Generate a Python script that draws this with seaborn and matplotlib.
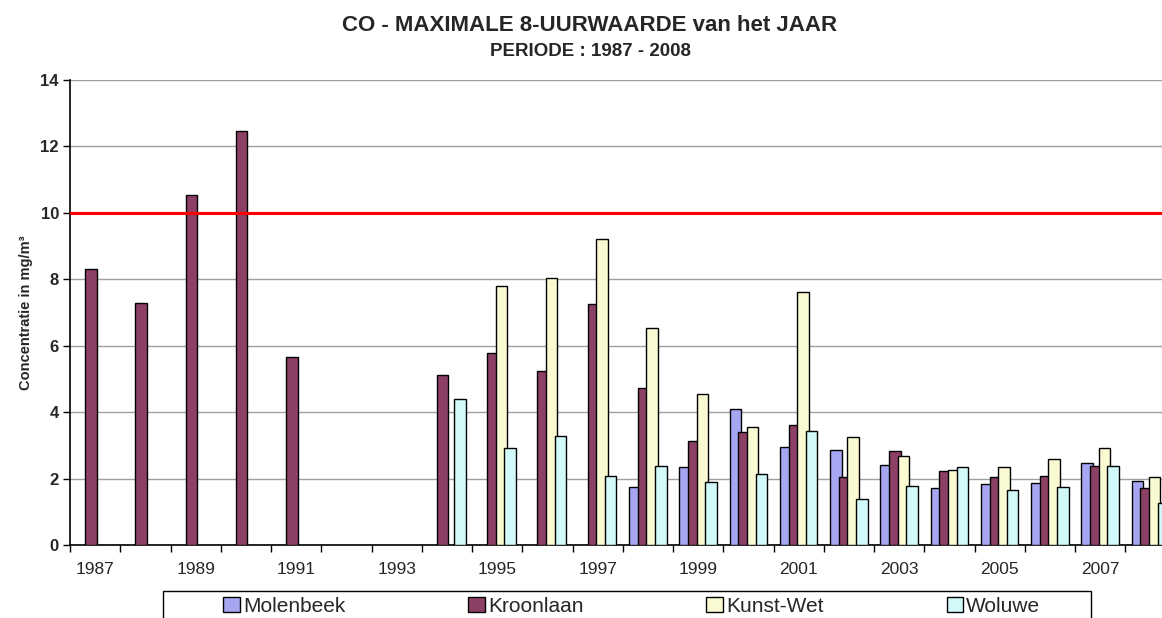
import numpy as np
import pandas as pd
import seaborn as sns
import matplotlib.pyplot as plt
from matplotlib.patches import Rectangle

sns.set_style('white')
plt.rcParams['font.family'] = ['Liberation Sans', 'DejaVu Sans']

# data (max 8-hour CO value per year, mg/m3)
years = list(range(1987, 2009))
nan = np.nan
molenbeek = [nan] * 11 + [1.74, 2.34, 4.08, 2.96, 2.85, 2.40, 1.71, 1.83, 1.86, 2.47, 1.92]
kroonlaan = [8.30, 7.30, 10.55, 12.46, 5.66, nan, nan, 5.12, 5.78, 5.23, 7.27,
             4.72, 3.12, 3.41, 3.61, 2.05, 2.84, 2.23, 2.06, 2.08, 2.38, 1.73]
kunst_wet = [nan] * 8 + [7.80, 8.03, 9.21, 6.54, 4.55, 3.55, 7.62, 3.26, 2.67, 2.27, 2.34, 2.59, 2.92, 2.06]
woluwe = [nan] * 7 + [4.40, 2.92, 3.28, 2.07, 2.38, 1.89, 2.15, 3.43, 1.39, 1.79, 2.36, 1.65, 1.76, 2.37, 1.25]
limit_value = 10

stations = ['Molenbeek', 'Kroonlaan', 'Kunst-Wet', 'Woluwe']
colors = {'Molenbeek': '#9999FF', 'Kroonlaan': '#993366', 'Kunst-Wet': '#FFFFCC', 'Woluwe': '#CCFFFF'}

df = pd.DataFrame({'Jaar': [str(y) for y in years], 'Molenbeek': molenbeek,
                   'Kroonlaan': kroonlaan, 'Kunst-Wet': kunst_wet, 'Woluwe': woluwe})
long_df = df.melt(id_vars='Jaar', value_vars=stations, var_name='Station', value_name='Waarde')

fig = plt.figure(figsize=(11.62, 6.18), dpi=100)
ax = fig.add_axes([70 / 1162, 1 - 545 / 618, 1 - 70 / 1162, (545 - 80) / 618])

sns.barplot(data=long_df, x='Jaar', y='Waarde', hue='Station', hue_order=stations,
            order=[str(y) for y in years], palette=colors, width=0.69,
            edgecolor='black', linewidth=1.0, errorbar=None, ax=ax, zorder=3)

# Excel style: bars a bit wider than their slot, overlapping
for p in ax.patches:
    if p.get_height() > 0:
        c = p.get_x() + p.get_width() / 2
        p.set_width(0.23)
        p.set_x(c - 0.115)

ax.axhline(limit_value, color='#FF0000', linewidth=2.2, zorder=5)

ax.set_ylim(0, 14)
ax.set_yticks(range(0, 15, 2))
ax.yaxis.grid(True, color='#A0A0A0', linewidth=1.0, zorder=0)
ax.set_axisbelow(True)

# tick marks between categories, labels every other year
ax.set_xticks([i - 0.5 for i in range(len(years) + 1)])
ax.set_xticklabels([])
ax.set_xticks(range(0, len(years), 2), minor=True)
ax.set_xticklabels([str(y) for y in years[::2]], minor=True, fontsize=12.5)
ax.set_xlim(-0.5, -0.5 + (1162 - 70) / 50.25)
ax.tick_params(axis='x', which='major', direction='out', length=5, width=1, color='black', bottom=True)
ax.tick_params(axis='x', which='minor', length=0, pad=12)
ax.tick_params(axis='y', direction='out', length=5, width=1, color='black', left=True, labelsize=12, pad=3)
for lab in ax.get_yticklabels():
    lab.set_fontweight('bold')

for s in ['top', 'right']:
    ax.spines[s].set_visible(False)
for s in ['left', 'bottom']:
    ax.spines[s].set_color('black')
    ax.spines[s].set_linewidth(1.2)

ax.set_xlabel('')
ax.set_ylabel('Concentratie in mg/m³', fontsize=10.5, fontweight='bold', labelpad=5)

handles, labels = ax.get_legend_handles_labels()
ax.get_legend().remove()
fig.patches.append(Rectangle((163 / 1162, -0.1), (1091 - 163) / 1162, 0.1 + (618 - 591) / 618,
                             transform=fig.transFigure, facecolor='white', edgecolor='black',
                             linewidth=1.0, zorder=0))
fig.legend(handles, labels, loc='upper left', ncol=4, frameon=False,
           bbox_to_anchor=(223 / 1162, 1 - 597 / 618), borderaxespad=0, borderpad=0,
           fontsize=15, handlelength=0.8, handleheight=0.7, handletextpad=0.15,
           columnspacing=5.9)

fig.text(590 / 1162, 1 - 31 / 618, 'CO - MAXIMALE 8-UURWAARDE van het JAAR',
         ha='center', va='baseline', fontsize=16, fontweight='bold')
fig.text(590 / 1162, 1 - 56.5 / 618, 'PERIODE : 1987 - 2008',
         ha='center', va='baseline', fontsize=13.5, fontweight='bold')

fig.savefig('out.png', dpi=100)
